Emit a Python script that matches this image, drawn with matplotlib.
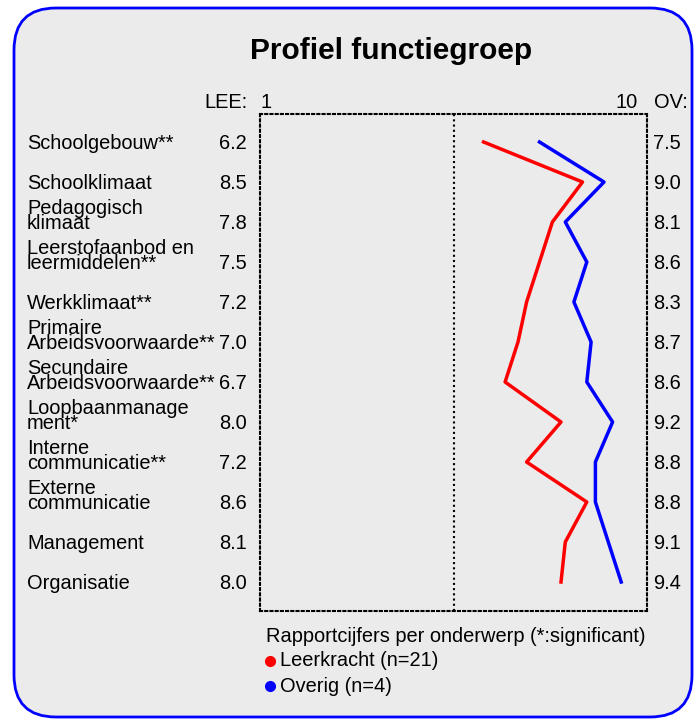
import matplotlib
matplotlib.use("Agg")
import matplotlib.pyplot as plt
import matplotlib.transforms as mtransforms
from matplotlib.patches import FancyBboxPatch
from matplotlib.lines import Line2D

plt.rcParams['font.family'] = ['Liberation Sans', 'DejaVu Sans']

# gegevens
onderwerpen = ["Schoolgebouw**", "Schoolklimaat", "Pedagogisch\nklimaat",
               "Leerstofaanbod en\nleermiddelen**", "Werkklimaat**",
               "Primaire\nArbeidsvoorwaarde**", "Secundaire\nArbeidsvoorwaarde**",
               "Loopbaanmanage\nment*", "Interne\ncommunicatie**",
               "Externe\ncommunicatie", "Management", "Organisatie"]
leerkracht = [6.2, 8.5, 7.8, 7.5, 7.2, 7.0, 6.7, 8.0, 7.2, 8.6, 8.1, 8.0]
overig = [7.5, 9.0, 8.1, 8.6, 8.3, 8.7, 8.6, 9.2, 8.8, 8.8, 9.1, 9.4]
titel = "Profiel functiegroep"
legenda_titel = "Rapportcijfers per onderwerp (*:significant)"
legenda = ["Leerkracht (n=21)", "Overig (n=4)"]

W, H = 700, 720
fig = plt.figure(figsize=(7, 7.2), dpi=100)
fig.patch.set_facecolor("white")

# afgeronde kader
kader = FancyBboxPatch((14 / 100, 3 / 100), 678 / 100, 709 / 100,
                       boxstyle="round,pad=0,rounding_size=0.42",
                       transform=fig.dpi_scale_trans,
                       facecolor="#ebebeb", edgecolor="#0000ff", linewidth=2,
                       zorder=-5)
fig.add_artist(kader)

fig.text(391 / W, 1 - 51 / H, titel, ha="center", va="center",
         fontsize=21.5, fontweight="bold")

# plotgebied
ax = fig.add_axes([260 / W, 1 - 611 / H, 387 / W, 497 / H])
ax.set_zorder(2)
ax.set_facecolor("none")
n = len(onderwerpen)
rijen = list(range(n))
ax.set_xlim(1, 10)
ax.set_ylim(11.725, -0.7)
stip = (0, (1, 1.5))
for s in ax.spines.values():
    s.set_linestyle(stip)
    s.set_linewidth(1.5)
ax.set_xticks([])
ax.set_yticks([])
ax.axvline(5.5, color="black", linestyle=stip, linewidth=1.5)

ax.plot(leerkracht, rijen, color="#ff0000", linewidth=2.5)
ax.plot(overig, rijen, color="#0000ff", linewidth=2.5)

# teksten links en rechts
tr = mtransforms.blended_transform_factory(fig.transFigure, ax.transData)
fs = 14.4
off = 0.27
for i in rijen:
    ax.text(27 / W, i + off, onderwerpen[i], transform=tr, ha="left", va="bottom",
            fontsize=fs, linespacing=0.72, clip_on=False)
    ax.text(247 / W, i + off, f"{leerkracht[i]:.1f}", transform=tr, ha="right",
            va="bottom", fontsize=fs, clip_on=False)
    ax.text(653 / W, i + off, f"{overig[i]:.1f}", transform=tr, ha="left",
            va="bottom", fontsize=fs, clip_on=False)

kop = -1.03 + off
ax.text(247 / W, kop, "LEE:", transform=tr, ha="right", va="bottom", fontsize=fs, clip_on=False)
ax.text(260 / W, kop, "1", transform=tr, ha="left", va="bottom", fontsize=fs, clip_on=False)
ax.text(638 / W, kop, "10", transform=tr, ha="right", va="bottom", fontsize=fs, clip_on=False)
ax.text(654 / W, kop, "OV:", transform=tr, ha="left", va="bottom", fontsize=fs, clip_on=False)

# legenda
fig.text(266 / W, 1 - 637 / H, legenda_titel, ha="left", va="center", fontsize=fs)
for k, (lab, kleur) in enumerate(zip(legenda, ["#ff0000", "#0000ff"])):
    y = 1 - (661 + 25 * k) / H
    fig.add_artist(Line2D([270 / W], [y], marker="o", markersize=7,
                          color=kleur, transform=fig.transFigure))
    fig.text(280 / W, y, lab, ha="left", va="center", fontsize=fs)

fig.savefig("out.png", dpi=100)
